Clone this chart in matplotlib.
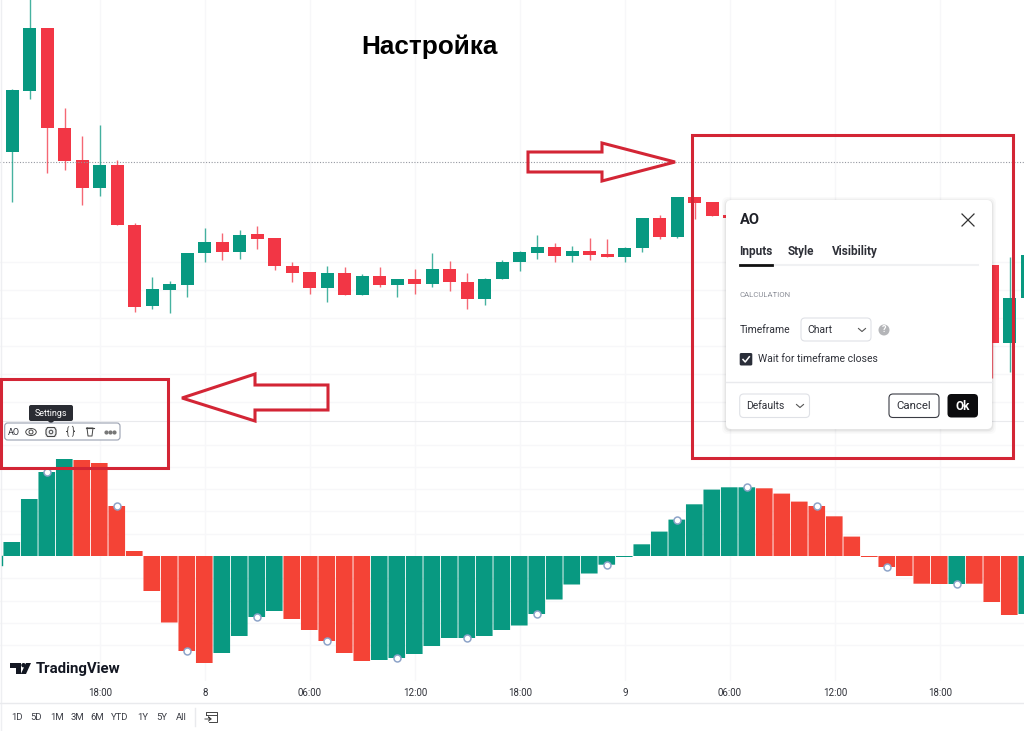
import matplotlib
matplotlib.use('Agg')
import matplotlib.pyplot as plt
from matplotlib.patches import Circle, Ellipse, FancyBboxPatch, Polygon, Rectangle

plt.rcParams['font.family'] = ['Roboto', 'DejaVu Sans']

# Candles (hidden behind the dialog: 42-55)
candle_idx = list(range(42)) + [56, 57, 58]
opens = [269, 330, 393, 293, 261, 233, 256, 196, 115, 131, 136, 168, 179, 169, 187, 183, 155, 149, 133, 148, 126,
         145, 136, 142, 137, 152, 139, 122, 142, 159, 168, 174, 165, 170, 167, 164, 173, 203, 184, 224, 219, 206,
         156, 78, 123]
highs = [332, 425, 393, 313, 285, 296, 261, 198, 144, 140, 168, 193, 188, 191, 195, 183, 159, 149, 155, 154, 147,
         154, 142, 152, 168, 160, 148, 143, 161, 170, 186, 178, 175, 183, 182, 174, 203, 206, 224, 224, 219, 206,
         156, 164, 166]
lows = [219, 322, 248, 251, 216, 225, 196, 109, 112, 108, 124, 159, 161, 162, 172, 151, 139, 127, 119, 126, 126,
        134, 124, 127, 134, 130, 112, 116, 142, 150, 162, 159, 159, 161, 164, 159, 169, 182, 183, 202, 205, 203,
        43, 49, 123]
closes = [331, 393, 293, 260, 233, 256, 196, 114, 132, 137, 168, 179, 169, 186, 182, 155, 148, 133, 148, 126, 145,
          136, 142, 137, 152, 139, 122, 142, 159, 169, 174, 165, 170, 166, 164, 173, 203, 184, 224, 218, 205, 203,
          78, 123, 166]
last_price = 259

# Awesome Oscillator
ao_values = [14, 57, 84, 97, 96, 93, 50, 5, -35, -66.5, -95, -107, -97, -80, -61, -55, -63, -74, -85, -97, -105,
             -104, -102, -98, -90, -82, -82, -80, -74, -69.5, -58, -43.5, -28.5, -17.5, -8.7, -1, 11.7, 24.4, 36.4,
             51.7, 66.4, 68.7, 68.7, 67.7, 62.4, 54.4, 50, 39.7, 19.4, -1, -11, -20, -27.7, -28, -28, -27.7, -46,
             -59, -58]
ao_colors = ['g'] * 4 + ['r'] * 8 + ['g'] * 4 + ['r'] * 5 + ['g'] * 22 + ['r'] * 11 + ['g', 'r', 'r', 'r', 'g']
ao_marks = [2, 6, 10, 14, 18, 22, 26, 30, 34, 38, 42, 46, 50, 54]

tick_idx = [5, 11, 17, 23, 29, 35, 41, 47, 53]
tick_labels = ['18:00', '8', '06:00', '12:00', '18:00', '9', '06:00', '12:00', '18:00']
price_grid = [159, 131, 103, 75, 47, 19]
ao_grid = [111, 89, 67, 45, 22, -22, -44.5, -67, -89]
ranges = ['1D', '5D', '1M', '3M', '6M', 'YTD', '1Y', '5Y', 'All']
range_x = [17, 36.5, 57, 77, 97.5, 120, 143, 162, 181]

GREEN = '#089981'
RED = '#f23645'
AO_RED = '#f44336'
FRAME = '#d32535'
TEXT = '#2e3038'
GRID = '#f7f7f9'
W, H = 1024, 731

fig = plt.figure(figsize=(W / 100, H / 100), dpi=100, facecolor='white')


def pane(top, bottom):
    ax = fig.add_axes([0, 1 - bottom / H, 1, (bottom - top) / H])
    ax.set_xlim(-12.3 / 17.5, (W - 12.3) / 17.5)
    ax.set_xticks(tick_idx)
    ax.grid(True, color=GRID, lw=1)
    ax.set_axisbelow(True)
    ax.tick_params(length=0, labelleft=False, labelbottom=False)
    for s in ax.spines.values():
        s.set_visible(False)
    return ax


# верхняя панель - свечи
ax_price = pane(0, 421)
ax_price.set_ylim(0, 421)
ax_price.set_yticks(price_grid)
ax_price.axhline(last_price, color='#9598a1', lw=0.8, ls=(0, (1, 1.5)))
for i, o, h, l, c in zip(candle_idx, opens, highs, lows, closes):
    col = GREEN if c >= o else RED
    ax_price.vlines(i, l, h, color=col, lw=1, alpha=0.75)
    ax_price.bar(i, c - o, bottom=o, width=0.76, color=col)

# нижняя панель - AO
ax_ao = pane(421, 681)
ax_ao.set_ylim(-125, 135)
ax_ao.set_yticks(ao_grid)
ax_ao.spines['top'].set_visible(True)
ax_ao.spines['top'].set_color('#e9eaed')
bars = ax_ao.bar([i - 0.03 for i in range(len(ao_values))], ao_values, width=0.95,
                 color=[GREEN if c == 'g' else AO_RED for c in ao_colors])
for b in bars:
    b.set_snap(False)
ax_ao.plot([i - 0.03 for i in ao_marks], [ao_values[i] for i in ao_marks], 'o', ms=5, mfc='white', mec='#8ea4c9', mew=1.1)
ax_ao.tick_params(labelbottom=True, labelsize=7, labelcolor=TEXT, pad=5)
ax_ao.set_xticklabels(tick_labels)

# всё остальное рисуем поверх в пикселях
ov = fig.add_axes([0, 0, 1, 1], zorder=5)
ov.set_xlim(0, W)
ov.set_ylim(H, 0)
ov.axis('off')
ov.patch.set_alpha(0)


def box(x0, y0, x1, y1, fc='white', ec='none', lw=0.8, r=3, z=5, alpha=None):
    p = FancyBboxPatch((x0 + r, y0 + r), x1 - x0 - 2 * r, y1 - y0 - 2 * r, boxstyle=f'round,pad={r},rounding_size={r}',
                       fc=fc, ec=ec, lw=lw, zorder=z, alpha=alpha)
    ov.add_patch(p)


def chevron(x, y):
    ov.plot([x - 3.5, x, x + 3.5], [y - 1.5, y + 1.5, y - 1.5], color='#555', lw=0.8, zorder=8)


def label(x, y, s, size=7, color=TEXT, ha='left', weight='normal'):
    ov.text(x, y, s, fontsize=size, color=color, ha=ha, va='center', fontweight=weight, zorder=9)


ov.plot([1, 1], [0, H], color='#eeeff2', lw=1, zorder=1)
ov.plot([2, 2], [556, 565], color=GREEN, lw=1, zorder=2)
ov.plot([0, W], [703, 703], color='#e9eaed', lw=1, zorder=2)
ov.plot([195, 195], [708, 726], color='#e9eaed', lw=1, zorder=2)

ov.text(429, 46.5, 'Настройка', fontsize=18.8, fontweight='bold', family='Liberation Sans', color='black',
        ha='center', va='center', zorder=9)

# рамки и стрелки
ov.add_patch(Rectangle((692, 134.5), 320.5, 323.5, fc='none', ec=FRAME, lw=2.2, zorder=8))
ov.add_patch(Rectangle((1, 379), 167, 88.5, fc='none', ec=FRAME, lw=2.2, zorder=8))
ov.add_patch(Polygon([(528, 152), (602, 152), (602, 143), (675, 162), (602, 181), (602, 172), (528, 172)],
                     closed=True, fc='none', ec=FRAME, lw=2.2, zorder=8))
ov.add_patch(Polygon([(182, 398), (255, 374), (255, 385), (328, 385), (328, 410), (255, 410), (255, 421)],
                     closed=True, fc='none', ec=FRAME, lw=2.2, zorder=8))

# диалог AO
for pad, a in [(4, 0.02), (2.5, 0.03), (1.2, 0.05)]:
    box(726 - pad, 200 - pad + 1, 992 + pad, 429 + pad + 1, fc='black', r=6, z=4, alpha=a)
box(726, 200, 992, 429, r=5)
label(739.5, 220, 'AO', size=10.5, weight='bold', color='#1f2128')
ov.plot([962, 974], [214, 226], color='#333', lw=0.9, zorder=8)
ov.plot([962, 974], [226, 214], color='#333', lw=0.9, zorder=8)
label(739.5, 252, 'Inputs', size=8.5, weight='bold')
label(788, 252, 'Style', size=8.5, weight='bold')
label(831.5, 252, 'Visibility', size=8.5, weight='bold')
ov.plot([772, 978], [264.5, 264.5], color='#f0f1f3', lw=1.5, zorder=7)
ov.plot([739.5, 772], [264.5, 264.5], color='#111', lw=2, zorder=8)
label(739.5, 295, 'CALCULATION', size=5.6, color='#8a8d96')
label(739.5, 330, 'Timeframe', size=7.5)
box(801, 318, 871, 341, ec='#dfe1e6', r=4, z=7)
label(807.5, 330, 'Chart', size=7.5)
chevron(862, 330)
ov.add_patch(Circle((884, 330), 5.5, fc='#b4b5b8', ec='none', zorder=8))
label(884, 330, '?', size=6.5, color='white', ha='center', weight='bold')
box(739.7, 353, 752.3, 365.5, fc='#2a2e39', r=1.5, z=7)
ov.plot([743, 745.2, 749.3], [359.5, 362, 356.8], color='white', lw=1.1, zorder=8)
label(758, 359, 'Wait for timeframe closes', size=7.5)
ov.plot([726, 992], [382, 382], color='#e9eaed', lw=1, zorder=7)
box(739.7, 394, 809.5, 417.5, ec='#dfe1e6', r=4, z=7)
label(746, 406, 'Defaults', size=7.5)
chevron(800, 406)
box(889, 394, 939, 417.5, ec='#3a3c44', r=4, z=7)
label(914, 406, 'Cancel', size=8.2, ha='center')
box(947.5, 394, 978, 417.5, fc='#0c0c0e', r=4, z=7)
label(963, 406, 'Ok', size=8.5, ha='center', color='white', weight='bold')

# панель индикатора
box(29, 405, 73, 421, fc='#2a2c33', r=2, z=7)
ov.add_patch(Polygon([(48, 421), (54, 421), (51, 424)], fc='#2a2c33', zorder=7))
label(51, 413, 'Settings', size=6.5, color='white', ha='center')
box(4.7, 423, 120, 440, ec='#9aa0b0', r=3, z=7)
label(13.5, 432.5, 'AO', size=6.5, ha='center')
ov.add_patch(Ellipse((31, 432), 10.5, 7, fc='none', ec='#444', lw=0.7, zorder=8))
ov.add_patch(Circle((31, 432), 2, fc='none', ec='#444', lw=0.7, zorder=8))
ov.add_patch(Rectangle((45, 427), 12, 10, fc='#f0f1f3', ec='none', zorder=7))
ov.add_patch(Polygon([(47.5, 427.5), (54.5, 427.5), (56, 430), (56, 434), (54.5, 436.5), (47.5, 436.5), (46, 434), (46, 430)],
                     fc='none', ec='#444', lw=0.8, zorder=8))
ov.add_patch(Circle((51, 432), 1.8, fc='none', ec='#444', lw=0.7, zorder=8))
label(71, 431.5, '{ }', size=7, ha='center', color='#444')
ov.plot([86, 94], [428, 428], color='#444', lw=0.8, zorder=8)
ov.plot([87, 88, 92, 93, 87], [428, 436, 436, 428, 428], color='#444', lw=0.7, zorder=8)
ov.plot([106, 110, 114], [432, 432, 432], 'o', ms=2, color='#777', zorder=8)

# логотип
ov.add_patch(Polygon([(10, 663), (20.5, 663), (20.5, 674), (15.5, 674), (15.5, 667.5), (10, 667.5)], fc='#131722', zorder=8))
ov.add_patch(Circle((23.5, 665.2), 2.2, fc='#131722', ec='none', zorder=8))
ov.add_patch(Polygon([(26, 663), (31, 663), (26, 674), (20.8, 674)], fc='#131722', zorder=8))
label(35.5, 669, 'TradingView', size=10.8, color='#131722', weight='bold')

# диапазоны
for x, s in zip(range_x, ranges):
    label(x, 717, s, size=6.8, ha='center', color='#3a3c44')
ov.plot([205.5, 205.5, 217, 217, 209], [715, 711.5, 711.5, 722, 722], color='#444', lw=0.7, zorder=8)
ov.plot([205.5, 217], [714.5, 714.5], color='#444', lw=0.7, zorder=8)
ov.plot([205, 211, 208.5, 211, 208.5], [719, 719, 717, 719, 721], color='#444', lw=0.7, zorder=8)

fig.savefig('out.png', dpi=100)
